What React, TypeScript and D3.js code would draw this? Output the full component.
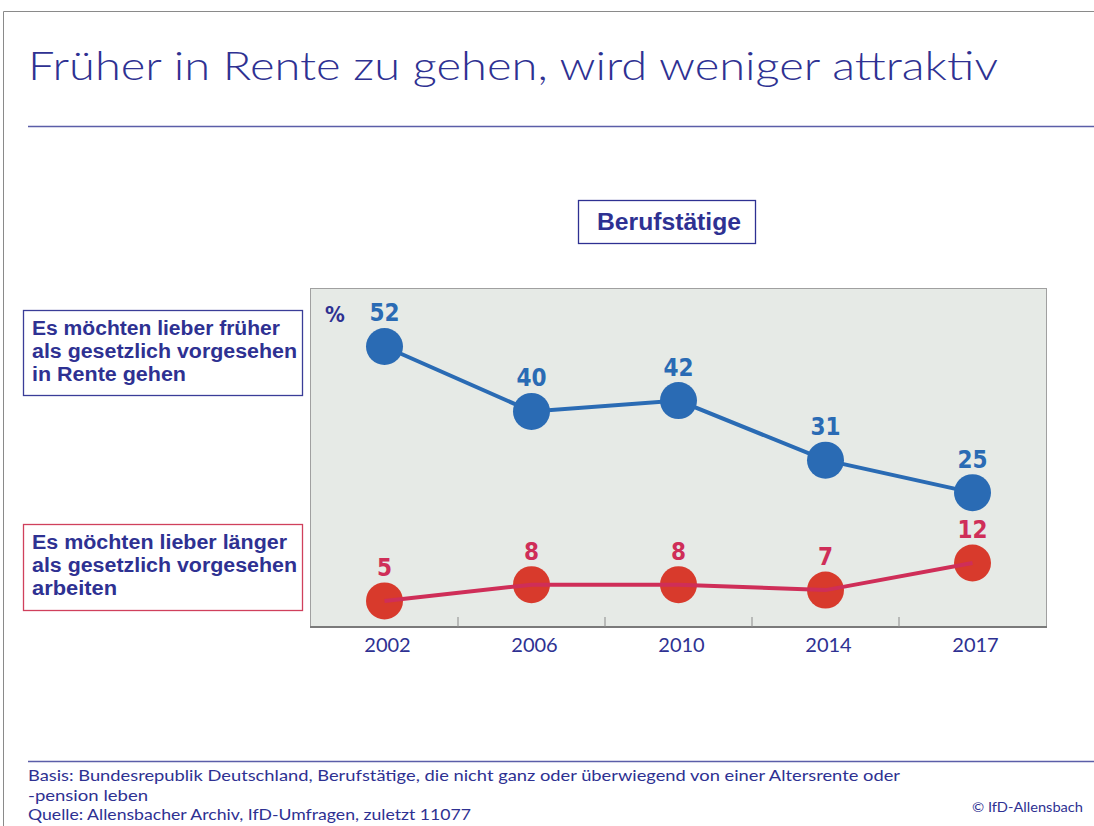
import React from "react";
import * as d3 from "d3";

const years = ["2002", "2006", "2010", "2014", "2017"];
const earlier = [52, 40, 42, 31, 25];
const longer = [5, 8, 8, 7, 12];
const title = "Früher in Rente zu gehen, wird weniger attraktiv";
const subtitle = "Berufstätige";
const legendEarlier = ["Es möchten lieber früher", "als gesetzlich vorgesehen", "in Rente gehen"];
const legendLonger = ["Es möchten lieber länger", "als gesetzlich vorgesehen", "arbeiten"];
const footer = [
  "Basis: Bundesrepublik Deutschland, Berufstätige, die nicht ganz oder überwiegend von einer Altersrente oder",
  "-pension leben",
  "Quelle: Allensbacher Archiv, IfD-Umfragen, zuletzt 11077",
];
const copyright = "© IfD-Allensbach";

const W = 1094;
const H = 826;
const NAVY = "#2e3192";
const BLUE = "#2a6bb4";
const RED = "#d83a2c";
const CRIMSON = "#cf2e58";
const FONT = "'Century Gothic', 'URW Gothic', 'Lato', 'Open Sans', sans-serif";
const BOLD = "'Liberation Sans', 'Arial', sans-serif";
const NARROW = "'DejaVu Sans Condensed', 'DejaVu Sans', sans-serif";

// widths of text lines measured on the reference (used as textLength)
const legendEarlierW = [248, 265, 154];
const legendLongerW = [255, 265, 85];
const footerW = [872, 120, 443];

export default function App() {
  const plot = { x0: 311, x1: 1046, y0: 288, y1: 627 };
  const x = d3.scaleBand<string>().domain(years).range([plot.x0, plot.x1]);
  const cx = (y: string) => (x(y) as number) + x.bandwidth() / 2;
  const y = d3.scaleLinear().domain([0, 62.8]).range([628, 288]);
  const line = d3
    .line<number>()
    .x((_, i) => cx(years[i]))
    .y((v) => y(v));
  const ticks = years.slice(1).map((yr) => x(yr) as number);

  return (
    <svg width={W} height={H} style={{ position: "absolute", left: 0, top: 0, background: "#fff" }}>
      <rect x={0} y={0} width={W} height={H} fill="#fff" />
      {/* outer frame */}
      <line x1={3.5} y1={11.5} x2={W} y2={11.5} stroke="#8a8a8a" strokeWidth={1} />
      <line x1={3.5} y1={11.5} x2={3.5} y2={H} stroke="#8a8a8a" strokeWidth={1} />

      <text x={28} y={80} fill={NAVY} fontFamily={FONT} fontSize={40} fontWeight={300}
        textLength={970} lengthAdjust="spacingAndGlyphs">{title}</text>
      <line x1={28} y1={126.5} x2={W} y2={126.5} stroke="#5b5ea8" strokeWidth={1.5} />

      {/* subtitle box */}
      <rect x={578.5} y={200.5} width={177} height={43} fill="#fff" stroke={NAVY} strokeWidth={1.3} />
      <text x={597} y={230} fill={NAVY} fontFamily={BOLD} fontWeight={700} fontSize={23}
        textLength={144} lengthAdjust="spacingAndGlyphs">{subtitle}</text>

      {/* plot area */}
      <rect x={310.5} y={288.5} width={736} height={339} fill="#e6eae6" stroke="#a0a0a0" strokeWidth={1} />
      <line x1={310} y1={627} x2={1047} y2={627} stroke="#7a7a7a" strokeWidth={2} />
      {ticks.map((t, i) => (
        <line key={i} x1={t} x2={t} y1={617} y2={627} stroke="#8a8a8a" strokeWidth={1} />
      ))}
      {years.map((yr) => (
        <text key={yr} x={cx(yr) + 3} y={652} textAnchor="middle" fill={NAVY} fontFamily={FONT} fontSize={20}>{yr}</text>
      ))}
      <text x={335} y={322} textAnchor="middle" fill={NAVY} fontFamily={NARROW} fontWeight={700} fontSize={22}>%</text>

      {/* blue series */}
      <path d={line(earlier) as string} fill="none" stroke={BLUE} strokeWidth={4} />
      {earlier.map((v, i) => (
        <g key={"b" + i}>
          <circle cx={cx(years[i])} cy={y(v)} r={18.5} fill={BLUE} />
          <text x={cx(years[i])} y={y(v) - 25} textAnchor="middle" fill={BLUE} fontFamily={NARROW} fontWeight={700} fontSize={24}>{v}</text>
        </g>
      ))}

      {/* red series */}
      {longer.map((v, i) => (
        <g key={"r" + i}>
          <circle cx={cx(years[i])} cy={y(v)} r={18.5} fill={RED} />
          <text x={cx(years[i])} y={y(v) - 25} textAnchor="middle" fill={CRIMSON} fontFamily={NARROW} fontWeight={700} fontSize={24}>{v}</text>
        </g>
      ))}
      <path d={line(longer) as string} fill="none" stroke={CRIMSON} strokeWidth={4} />

      {/* legend boxes */}
      <rect x={23.5} y={310.5} width={279} height={85} fill="#fff" stroke="#3a3d98" strokeWidth={1.3} />
      {legendEarlier.map((t, i) => (
        <text key={"le" + i} x={32} y={335 + i * 23} fill={NAVY} fontFamily={BOLD} fontWeight={700} fontSize={20}
          textLength={legendEarlierW[i]} lengthAdjust="spacingAndGlyphs">{t}</text>
      ))}
      <rect x={23.5} y={524.5} width={279} height={86} fill="#fff" stroke="#d0405c" strokeWidth={1.3} />
      {legendLonger.map((t, i) => (
        <text key={"ll" + i} x={32} y={549 + i * 23} fill={NAVY} fontFamily={BOLD} fontWeight={700} fontSize={20}
          textLength={legendLongerW[i]} lengthAdjust="spacingAndGlyphs">{t}</text>
      ))}

      {/* footer */}
      <line x1={28} y1={761.5} x2={W} y2={761.5} stroke="#5b5ea8" strokeWidth={1.5} />
      {footer.map((t, i) => (
        <text key={"f" + i} x={28} y={781 + i * 19.5} fill={NAVY} fontFamily={FONT} fontSize={16} fontWeight={400}
          textLength={footerW[i]} lengthAdjust="spacingAndGlyphs">{t}</text>
      ))}
      <text x={972} y={812} fill={NAVY} fontFamily={FONT} fontSize={13} fontWeight={400}
        textLength={111} lengthAdjust="spacingAndGlyphs">{copyright}</text>
    </svg>
  );
}
